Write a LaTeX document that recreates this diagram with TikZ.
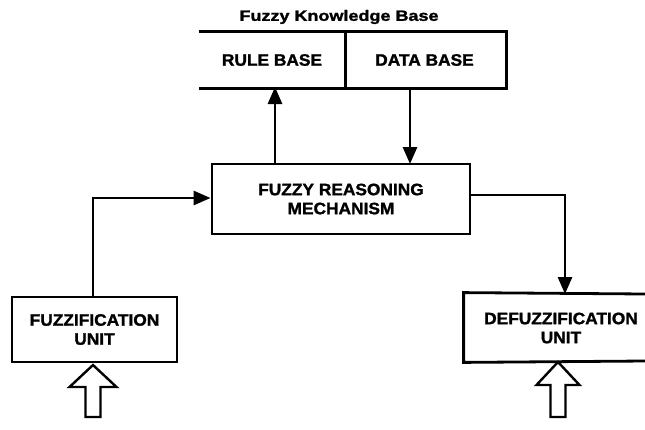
\documentclass[tikz,border=0pt]{standalone}
\usepackage{fontspec}
\setmainfont{Liberation Sans}
\newfontfamily\titlefont[FakeStretch=1.2,FakeBold=1.5]{Liberation Sans}
\newfontfamily\labelfont[FakeStretch=1.05,FakeBold=1.5]{Liberation Sans}
\usetikzlibrary{arrows.meta}
\begin{document}
\begin{tikzpicture}[x=1pt,y=-1pt,
  line width=2.8pt,
  lbl/.style={font=\labelfont\fontsize{16.5}{19}\selectfont\bfseries, align=center, inner sep=0pt},
  boxline/.style={line width=2.8pt},
  conn/.style={line width=2.8pt, -{Triangle[length=17pt,width=14pt]}},
  hollow/.style={line width=2.4pt, fill=white, line join=miter}
]
\useasboundingbox (0,0) rectangle (645,429);
% title
\node[font=\titlefont\fontsize{15}{18}\selectfont\bfseries, inner sep=0pt] (kbtitle) at (339,17) {Fuzzy Knowledge Base};
% knowledge base boxes
\node[lbl, minimum width=144pt, minimum height=54pt] (rule) at (272,60) {RULE BASE};
\node[lbl, minimum width=161pt, minimum height=54pt] (data) at (424.5,60) {DATA BASE};
\draw[boxline] (rule.north west) -- (data.north east) -- (data.south east) -- (rule.south west);
\draw[boxline] (rule.north east) -- (rule.south east);
% reasoning
\node[lbl, draw, line width=2.8pt, minimum width=258pt, minimum height=70pt] (reason) at (341,199) {FUZZY REASONING\\MECHANISM};
% fuzzification
\node[lbl, draw, line width=2.8pt, minimum width=165pt, minimum height=65pt] (fuzz) at (94.5,329.5) {FUZZIFICATION\\UNIT};
% defuzzification (cut at right edge)
\node[lbl, minimum width=190pt, minimum height=67pt] (defuzz) at (560,327.5) {};
\node[lbl] (defuzztext) at (561,328) {DEFUZZIFICATION\\UNIT};
\draw[boxline] (645,294) -- (defuzz.north west) -- (defuzz.south west) -- (645,361);
% connectors
\coordinate (ruleup) at (275,164);
\coordinate (rulein) at (275,87);
\draw[conn] (ruleup) -- (rulein);
\coordinate (dataout) at (410,87);
\coordinate (datain) at (410,164);
\draw[conn] (dataout) -- (datain);
\draw[conn] (fuzz.north -| 93,0) |- (reason.west |- 0,198);
\draw[conn] (reason.east |- 0,195) -| (565,294);
% hollow input arrows
\draw[hollow] (93,365) -- (116.5,387) -- (100.5,387) -- (100.5,417) -- (85.5,417) -- (85.5,387) -- (69.5,387) -- cycle;
\draw[hollow] (558,362) -- (579.5,385) -- (565.5,385) -- (565.5,417) -- (550.5,417) -- (550.5,385) -- (536.5,385) -- cycle;
\end{tikzpicture}
\end{document}
